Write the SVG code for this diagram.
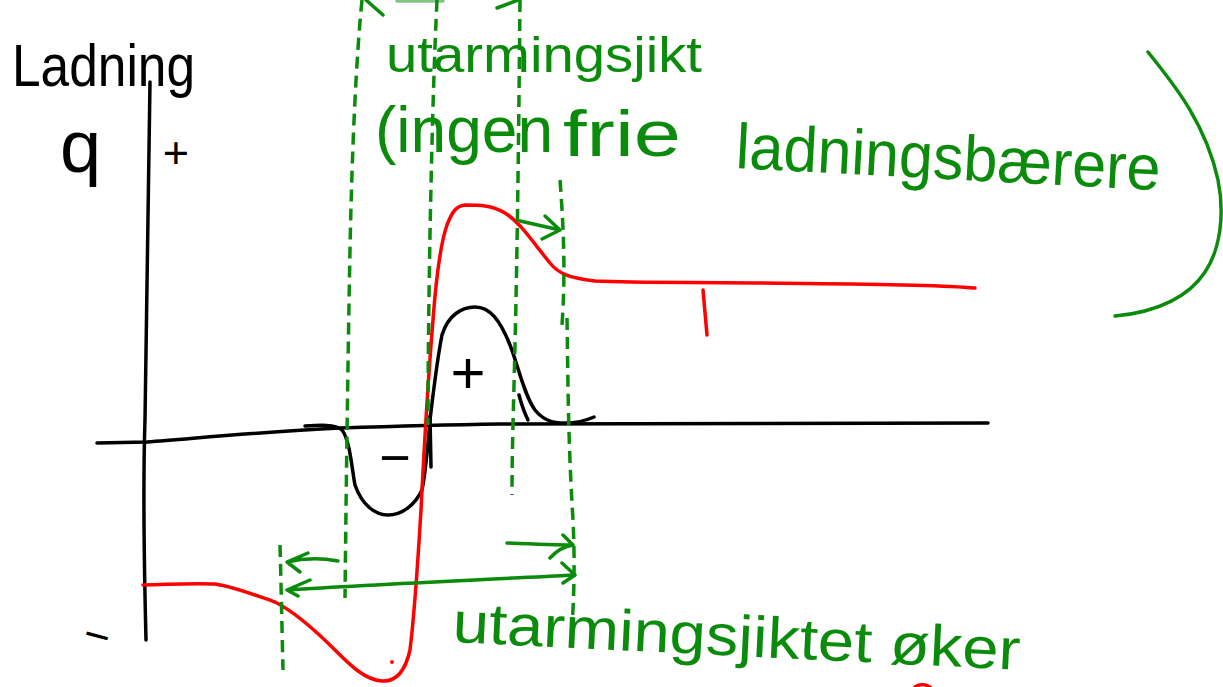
<svg xmlns="http://www.w3.org/2000/svg" width="1223" height="687" viewBox="0 0 1223 687">
<style>
.blk{fill:none;stroke:#000;stroke-width:3.5;stroke-linecap:round;stroke-linejoin:round}
.red{fill:none;stroke:#ff0000;stroke-width:3.5;stroke-linecap:round;stroke-linejoin:round}
.grn{fill:none;stroke:#0b8b0b;stroke-width:3.5;stroke-linecap:round;stroke-linejoin:round}
.dash{fill:none;stroke:#0b8b0b;stroke-width:3.5;stroke-dasharray:12 7}
.tb{font-family:"Liberation Sans",Arial,sans-serif;fill:#000}
.tg{font-family:"Liberation Sans",Arial,sans-serif;fill:#0b8b0b}
</style>
<rect width="1223" height="687" fill="#fff"/>

<g id="axes">
<path class="blk" d="M146,640 C144,560 143,480 145,420 C147,300 149,180 150,82"/>
<path class="blk" d="M97,443 L147,442 C200,438 260,432 340,428 C400,426 430,425 500,424 C700,423 850,423 988,423"/>
</g>

<g id="label-ladning">
<text class="tb" x="12" y="86" font-size="60" textLength="183" lengthAdjust="spacingAndGlyphs">Ladning</text>
<text class="tb" x="60" y="172" font-size="74">q</text>
<text class="tb" x="176" y="168" font-size="45" text-anchor="middle">+</text>
<text class="tb" x="97" y="651" font-size="45" text-anchor="middle" transform="rotate(15 97 636)">−</text>
</g>

<g id="charge-density">
<path class="blk" d="M305,426 C320,425 335,424 342,430 C350,440 352,470 355,485 C362,505 375,515 388,515 C402,515 415,505 422,490 C426,470 428,445 430,420 C433,395 437,360 442,335 C448,315 462,307 475,307 C490,307 500,320 510,345 C518,365 524,395 535,410 C543,420 552,423 565,423 C575,423 585,421 594,417"/>
<path class="blk" d="M519,395 Q523,410 528,420"/>
<path class="blk" d="M430,416 L431,467"/>
<text class="tb" x="468" y="393" font-size="60" text-anchor="middle">+</text>
<text class="tb" x="395" y="476" font-size="54" text-anchor="middle">−</text>
</g>

<g id="red-curve">
<path class="red" d="M143,585 C170,584 200,583 215,584 C235,587 255,595 275,602 C295,612 315,630 335,650 C350,665 365,680 382,681 C398,682 406,668 410,650 C415,610 418,560 421,510 C424,450 428,380 433,320 C436,280 440,245 447,225 C452,212 456,206 465,205 C478,205 492,205 505,213 C520,222 535,245 550,263 C558,273 568,278 595,281 C640,283 700,282 760,283 C850,284 930,284 975,288"/>
<path class="red" d="M703,290 L707,335"/>
<circle cx="392" cy="662" r="2" fill="#ff0000"/>
<path class="red" d="M915,687 Q922,682 930,687"/>
</g>

<g id="connectors">
<path class="dash" d="M362,0 C356,60 352,150 350,250 S346,500 345,598"/>
<path class="dash" d="M437,0 C432,100 428,300 428,425"/>
<path class="dash" d="M520,0 C519,100 518,200 516,300 S512,440 512,495"/>
<path class="dash" d="M560,180 C563,220 566,270 562,325"/>
<path class="dash" d="M567,318 C568,380 568,440 573,520 C575,560 574,600 572,625"/>
<path class="dash" d="M280,545 C281,580 282,630 283,670"/>
<path class="grn" d="M366,0 L383,15"/>
<path class="grn" d="M397,1 L443,1" stroke-opacity="0.5"/>
<path class="grn" d="M497,8 L518,0"/>
<path class="grn" d="M520,221 L560,230 M545,216 L560,230 L542,239"/>
<path class="grn" d="M507,543 C530,544 555,545 573,545 M550,558 Q560,547 573,545 M563,535 L573,545"/>
<path class="grn" d="M338,561 Q312,556 287,562 M308,553 L287,562 L300,572"/>
<path class="grn" d="M287,590 C380,584 480,580 575,575 M310,580 L287,590 L298,596 M562,563 L575,575 L563,583"/>
</g>

<g id="label-utarmingsjikt">
<text class="tg" x="386" y="72" font-size="50" textLength="316" lengthAdjust="spacingAndGlyphs">utarmingsjikt</text>
<text class="tg" x="375" y="152" font-size="64" textLength="178" lengthAdjust="spacingAndGlyphs">(ingen</text>
<text class="tg" x="563" y="156" font-size="64" textLength="118" lengthAdjust="spacingAndGlyphs">frie</text>
<text class="tg" x="735" y="168" font-size="64" textLength="425" lengthAdjust="spacingAndGlyphs" transform="rotate(3 735 168)">ladningsbærere</text>
<path class="grn" d="M1148,52 C1170,80 1205,120 1218,180 C1225,215 1220,250 1205,272 C1190,295 1160,312 1115,316"/>
</g>

<g id="label-okning">
<text class="tg" x="452" y="642" font-size="58" textLength="568" lengthAdjust="spacingAndGlyphs" transform="rotate(2.8 452 642)">utarmingsjiktet øker</text>
</g>
</svg>
